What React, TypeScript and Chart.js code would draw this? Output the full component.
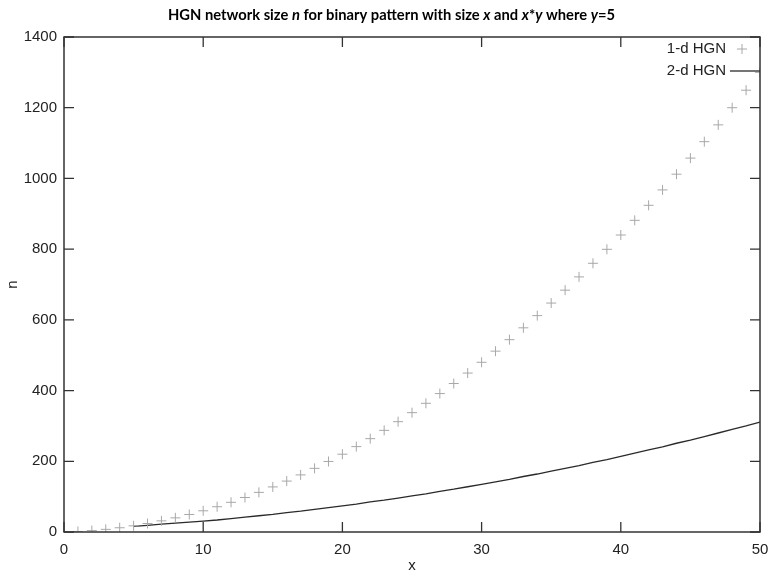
import React, { useEffect, useRef } from "react";
import { Chart, registerables } from "chart.js";

Chart.register(...registerables);

const xValues1d = [
  1, 2, 3, 4, 5, 6, 7, 8, 9, 10, 11, 12, 13, 14, 15, 16, 17, 18, 19, 20, 21, 22, 23, 24, 25,
  26, 27, 28, 29, 30, 31, 32, 33, 34, 35, 36, 37, 38, 39, 40, 41, 42, 43, 44, 45, 46, 47, 48, 49, 50,
];
const hgn1d = [
  1.5, 4, 7.5, 12, 17.5, 24, 31.5, 40, 49.5, 60, 71.5, 84, 97.5, 112, 127.5, 144, 161.5, 180, 199.5, 220,
  241.5, 264, 287.5, 312, 337.5, 364, 391.5, 420, 449.5, 480, 511.5, 544, 577.5, 612, 647.5, 684, 721.5,
  760, 799.5, 840, 881.5, 924, 967.5, 1012, 1057.5, 1104, 1151.5, 1200, 1249.5, 1300,
];
const xValues2d = [
  5, 6, 7, 8, 9, 10, 11, 12, 13, 14, 15, 16, 17, 18, 19, 20, 21, 22, 23, 24, 25, 26, 27, 28, 29, 30,
  31, 32, 33, 34, 35, 36, 37, 38, 39, 40, 41, 42, 43, 44, 45, 46, 47, 48, 49, 50,
];
const hgn2d = [
  16, 19, 22, 25, 28, 31, 34, 38, 42, 46, 50, 55, 59, 64, 69, 74, 79, 85, 90, 96, 102, 108, 115, 121, 128,
  135, 142, 149, 157, 164, 172, 180, 188, 197, 205, 214, 223, 232, 241, 251, 260, 270, 280, 290, 300, 311,
];
const xTicks = [0, 10, 20, 30, 40, 50];
const yTicks = [0, 200, 400, 600, 800, 1000, 1200, 1400];
const seriesLabels = ["1-d HGN", "2-d HGN"];
const titleParts: [string, boolean][] = [
  ["HGN network size ", false],
  ["n", true],
  [" for binary pattern with size ", false],
  ["x", true],
  [" and ", false],
  ["x", true],
  ["*", false],
  ["y", true],
  [" where ", false],
  ["y", true],
  ["=5", false],
];

const AXIS_COLOR = "#333333";
const PLUS_COLOR = "#a8a8a8";
const LINE_COLOR = "#2a2a2a";
const TEXT_COLOR = "#222222";
const FONT = "'Liberation Sans', Arial, sans-serif";

const framePlugin = {
  id: "frame",
  afterDraw(chart: any) {
    const ctx = chart.ctx;
    const { left, right, top, bottom } = chart.chartArea;
    const xs = chart.scales.x;
    const ys = chart.scales.y;
    ctx.save();
    ctx.strokeStyle = AXIS_COLOR;
    ctx.lineWidth = 1.5;
    ctx.strokeRect(left, top, right - left, bottom - top);
    ctx.lineWidth = 1.3;
    const tl = 10;
    ctx.beginPath();
    xTicks.forEach((v) => {
      const px = xs.getPixelForValue(v);
      ctx.moveTo(px, bottom);
      ctx.lineTo(px, bottom - tl);
      ctx.moveTo(px, top);
      ctx.lineTo(px, top + tl);
    });
    yTicks.forEach((v) => {
      const py = ys.getPixelForValue(v);
      ctx.moveTo(left, py);
      ctx.lineTo(left + tl, py);
      ctx.moveTo(right, py);
      ctx.lineTo(right - tl, py);
    });
    ctx.stroke();

    // legend (gnuplot style: text then sample)
    ctx.font = `15px ${FONT}`;
    ctx.fillStyle = TEXT_COLOR;
    ctx.textAlign = "right";
    ctx.textBaseline = "middle";
    ctx.fillText(seriesLabels[0], 726, 49);
    ctx.fillText(seriesLabels[1], 726, 71);
    ctx.strokeStyle = PLUS_COLOR;
    ctx.lineWidth = 1;
    ctx.beginPath();
    ctx.moveTo(742 - 5, 49);
    ctx.lineTo(742 + 5, 49);
    ctx.moveTo(742, 44);
    ctx.lineTo(742, 54);
    ctx.stroke();
    ctx.strokeStyle = LINE_COLOR;
    ctx.lineWidth = 1.3;
    ctx.beginPath();
    ctx.moveTo(730, 71);
    ctx.lineTo(760, 71);
    ctx.stroke();

    // title with italic parts
    const size = 15;
    const fam = "Lato, 'Open Sans', sans-serif";
    let total = 0;
    const widths = titleParts.map(([t, it]) => {
      ctx.font = `${it ? "italic " : ""}bold ${size}px ${fam}`;
      const w = ctx.measureText(t).width;
      total += w;
      return w;
    });
    const targetLeft = 168;
    const targetWidth = 447;
    const sx = targetWidth / total;
    ctx.translate(targetLeft, 15);
    ctx.scale(sx, 1);
    ctx.fillStyle = "#000";
    ctx.textAlign = "left";
    ctx.textBaseline = "middle";
    let cx = 0;
    titleParts.forEach(([t, it], i) => {
      ctx.font = `${it ? "italic " : ""}bold ${size}px ${fam}`;
      ctx.fillText(t, cx, 0);
      cx += widths[i];
    });
    ctx.restore();
  },
};

export default function App() {
  const ref = useRef<HTMLCanvasElement | null>(null);
  useEffect(() => {
    document.body.style.margin = "0";
    if (!ref.current) return;
    const chart = new Chart(ref.current, {
      type: "line",
      data: {
        datasets: [
          {
            label: seriesLabels[0],
            data: xValues1d.map((x, i) => ({ x, y: hgn1d[i] })),
            showLine: false,
            pointStyle: "cross",
            pointRadius: 5,
            pointBorderWidth: 1,
            pointBorderColor: PLUS_COLOR,
            pointBackgroundColor: PLUS_COLOR,
            borderColor: PLUS_COLOR,
          },
          {
            label: seriesLabels[1],
            data: xValues2d.map((x, i) => ({ x, y: hgn2d[i] })),
            showLine: true,
            pointRadius: 0,
            borderColor: LINE_COLOR,
            borderWidth: 1.3,
            tension: 0,
            fill: false,
          },
        ],
      },
      options: {
        animation: false,
        responsive: false,
        maintainAspectRatio: false,
        layout: { padding: { top: 37, right: 10, left: 0, bottom: 0 } },
        plugins: { legend: { display: false }, title: { display: false }, tooltip: { enabled: false } },
        scales: {
          x: {
            type: "linear",
            min: 0,
            max: 50,
            grid: { display: false, drawTicks: false },
            border: { display: false },
            afterBuildTicks: (s: any) => {
              s.ticks = xTicks.map((v) => ({ value: v }));
            },
            afterFit: (s: any) => {
              s.height = 41;
              s.paddingLeft = 0;
              s.paddingRight = 0;
            },
            ticks: {
              color: TEXT_COLOR,
              padding: 9,
              font: { family: FONT, size: 15 },
              maxRotation: 0,
              callback: (v: any) => String(v),
            },
            title: {
              display: true,
              text: "x",
              color: TEXT_COLOR,
              font: { family: FONT, size: 15, lineHeight: 1 },
              padding: 0,
            },
          },
          y: {
            type: "linear",
            min: 0,
            max: 1400,
            grid: { display: false, drawTicks: false },
            border: { display: false },
            afterBuildTicks: (s: any) => {
              s.ticks = yTicks.map((v) => ({ value: v }));
            },
            afterFit: (s: any) => {
              s.width = 64;
              s.paddingTop = 0;
              s.paddingBottom = 0;
            },
            ticks: {
              color: TEXT_COLOR,
              padding: 7,
              font: { family: FONT, size: 15 },
              callback: (v: any) => String(v),
            },
            title: {
              display: true,
              text: "n",
              color: TEXT_COLOR,
              font: { family: FONT, size: 15 },
              padding: 4,
            },
          },
        },
      },
      plugins: [framePlugin],
    });
    return () => chart.destroy();
  }, []);
  return (
    <div style={{ position: "absolute", left: 0, top: 0, width: 770, height: 573 }}>
      <canvas ref={ref} width={770} height={573} style={{ width: 770, height: 573 }} />
    </div>
  );
}
